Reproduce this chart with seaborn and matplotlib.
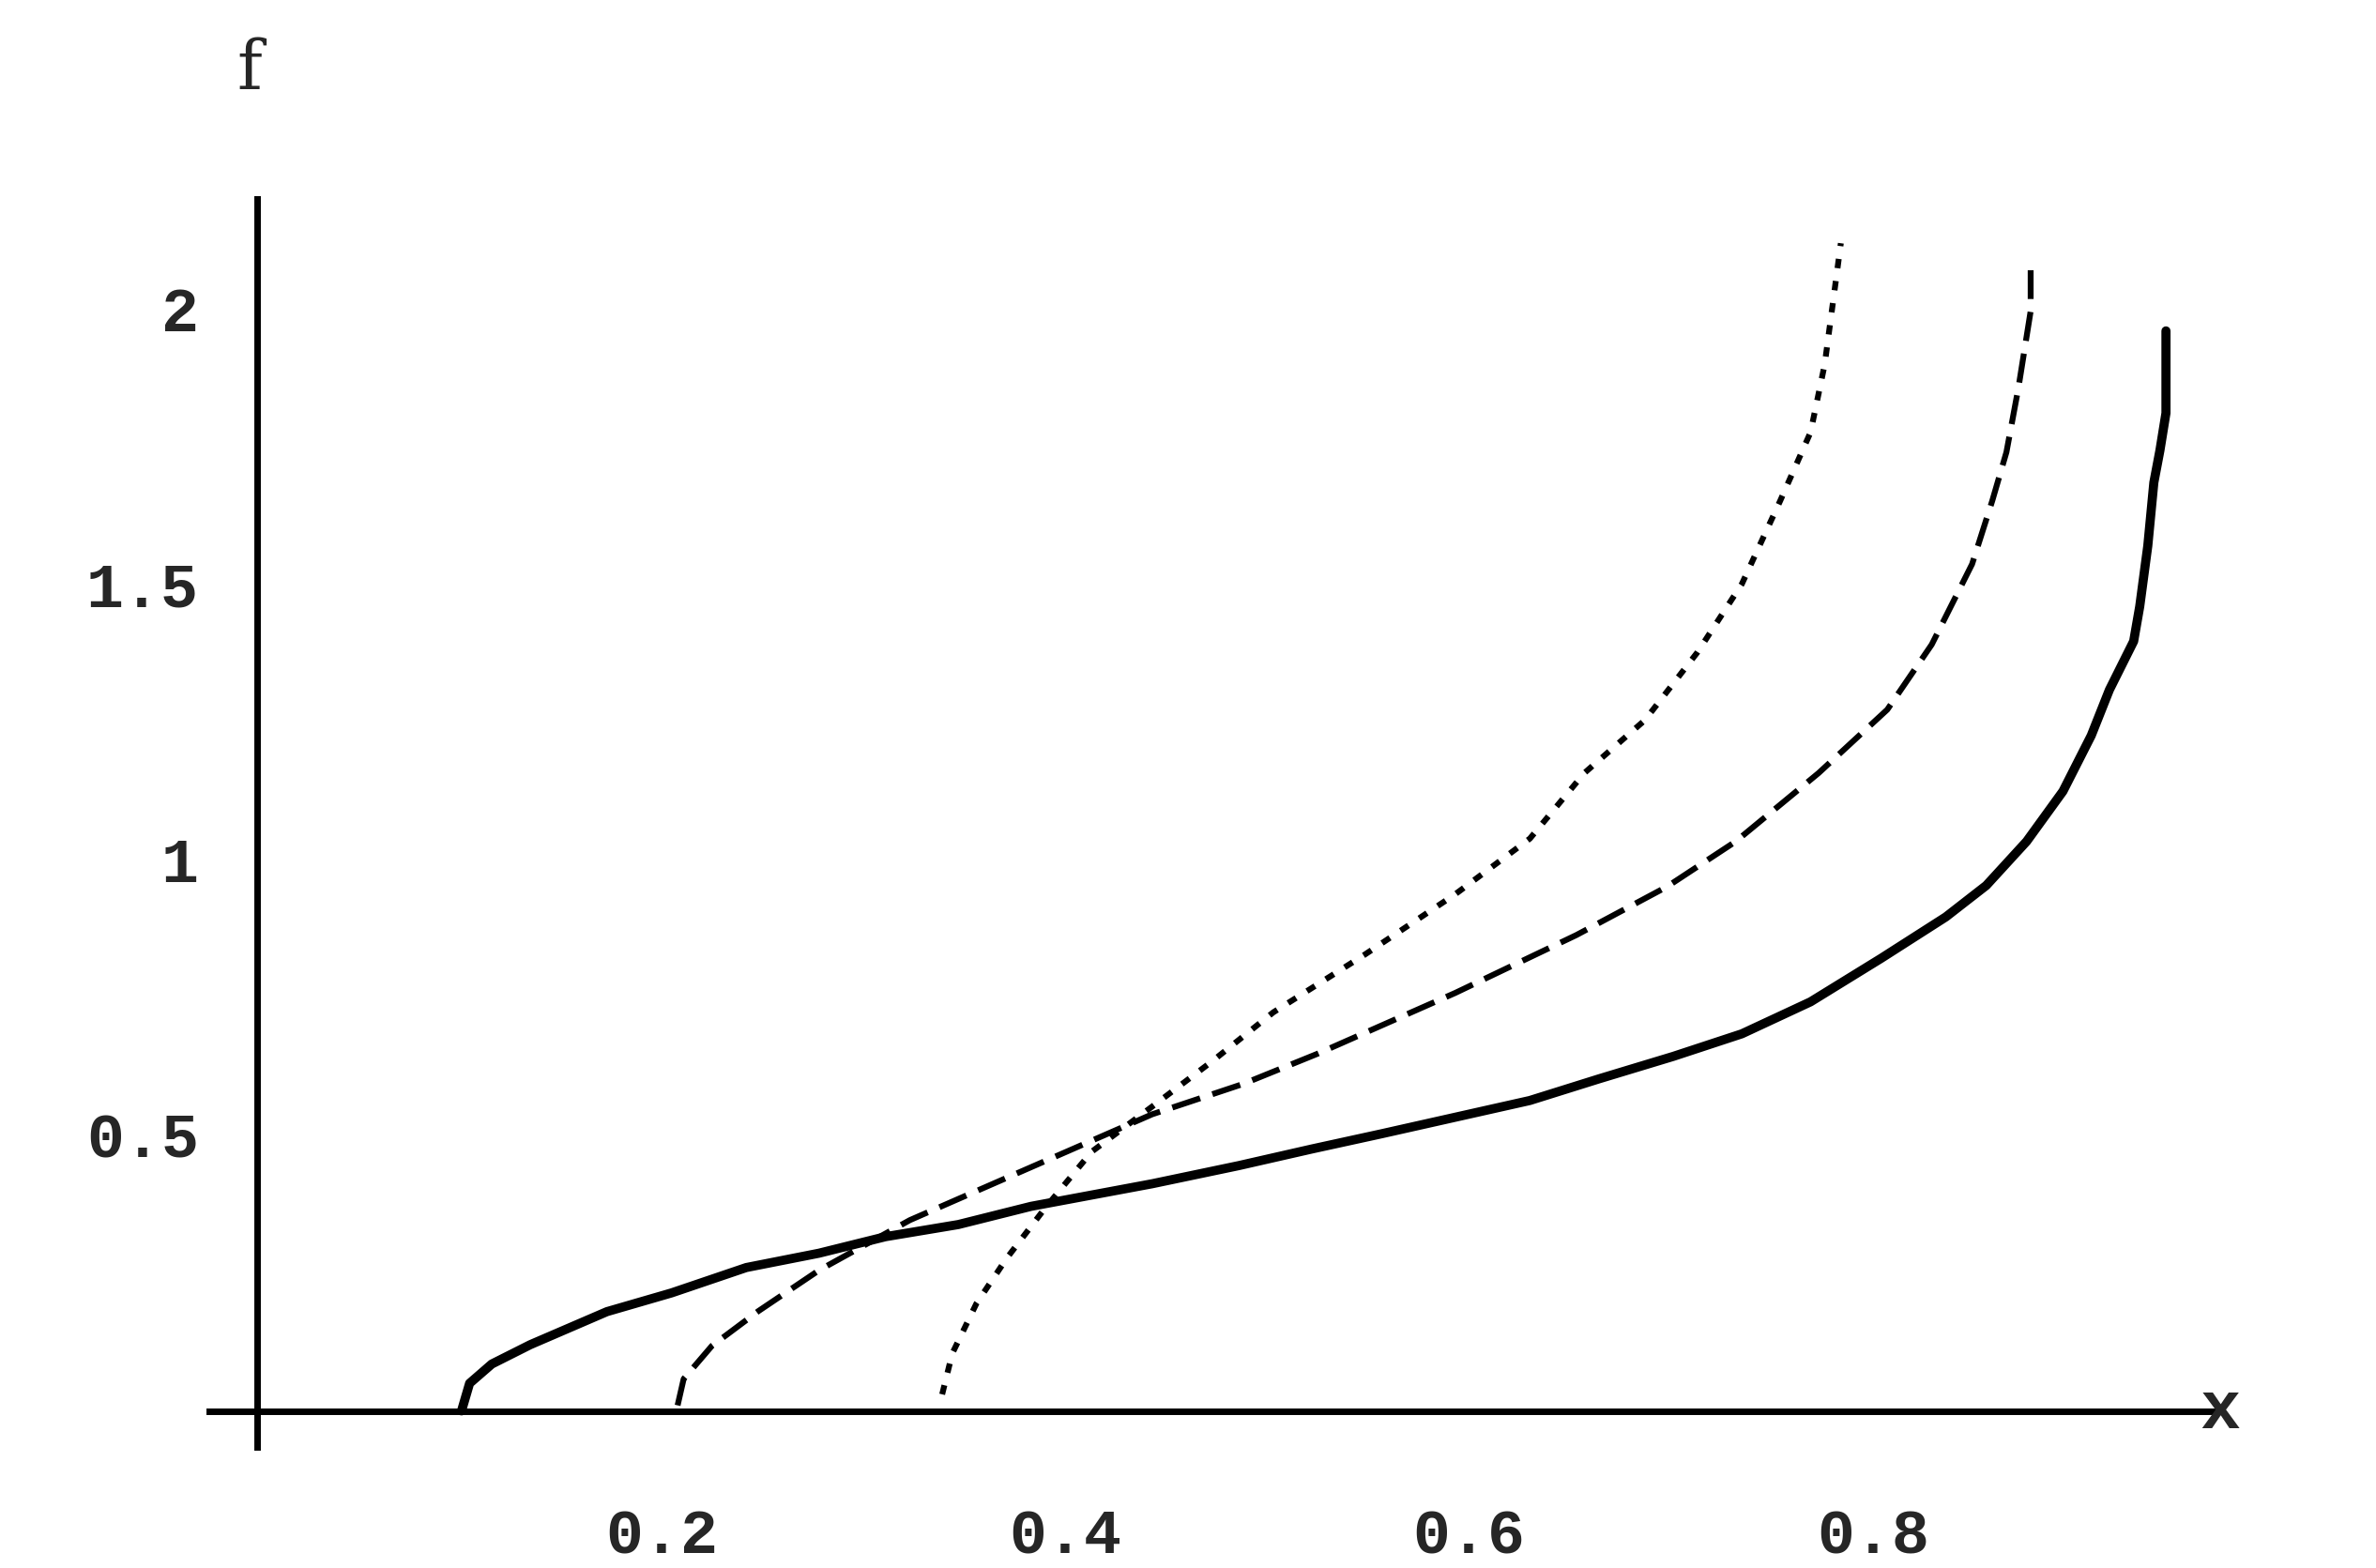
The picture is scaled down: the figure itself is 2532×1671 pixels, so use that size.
import matplotlib
matplotlib.use("Agg")
import matplotlib.pyplot as plt
import seaborn as sns
import numpy as np
import pandas as pd

solid_x = [0.101, 0.105, 0.116, 0.135, 0.173, 0.205, 0.242, 0.278, 0.311, 0.347, 0.383, 0.443, 0.486, 0.522, 0.557,
           0.630, 0.664, 0.701, 0.735, 0.769, 0.804, 0.836, 0.856, 0.876, 0.894, 0.908, 0.917, 0.929, 0.932, 0.936,
           0.939, 0.942, 0.945, 0.945]
solid_y = [0.0, 0.05, 0.085, 0.12, 0.18, 0.214, 0.26, 0.286, 0.316, 0.338, 0.371, 0.412, 0.445, 0.475, 0.503,
           0.563, 0.602, 0.643, 0.684, 0.742, 0.821, 0.896, 0.953, 1.033, 1.124, 1.225, 1.308, 1.396, 1.459, 1.569,
           1.684, 1.742, 1.81, 1.959]
dashed_x = [0.208, 0.211, 0.225, 0.248, 0.278, 0.323, 0.383, 0.443, 0.488, 0.525, 0.593, 0.653, 0.698, 0.732,
            0.773, 0.807, 0.829, 0.849, 0.859, 0.866, 0.872, 0.878, 0.878]
dashed_y = [0.01, 0.058, 0.118, 0.181, 0.255, 0.346, 0.442, 0.538, 0.593, 0.648, 0.758, 0.863, 0.951, 1.033,
            1.157, 1.272, 1.39, 1.536, 1.651, 1.739, 1.857, 1.995, 2.069]
dotted_x = [0.339, 0.344, 0.356, 0.371, 0.39, 0.413, 0.443, 0.473, 0.503, 0.548, 0.593, 0.630, 0.657, 0.687,
            0.713, 0.735, 0.754, 0.769, 0.776, 0.784]
dotted_y = [0.03, 0.104, 0.195, 0.277, 0.368, 0.47, 0.552, 0.635, 0.723, 0.827, 0.937, 1.038, 1.157, 1.253,
            1.376, 1.5, 1.651, 1.775, 1.898, 2.118]

sns.set_style("white")
fig = plt.figure(figsize=(25.32, 16.71), dpi=100)
ax = fig.add_axes([0.088, 0.077, 0.844, 0.796])

for xs, ys, ls, lw in [(solid_x, solid_y, "-", 7),
                       (dashed_x, dashed_y, (0, (5, 2.2)), 4.5),
                       (dotted_x, dotted_y, (0, (1.6, 2.2)), 4.5)]:
    df = pd.DataFrame({"x": xs, "y": ys})
    sns.lineplot(data=df, x="x", y="y", sort=False, estimator=None, ax=ax,
                 color="black", lw=lw, linestyle=ls)

ax.set_xlim(-0.024, 0.969)
ax.set_ylim(-0.066, 2.198)
for s in ["top", "right"]:
    ax.spines[s].set_visible(False)
ax.spines["left"].set_position(("data", 0))
ax.spines["bottom"].set_position(("data", 0))
for s in ["left", "bottom"]:
    ax.spines[s].set_linewidth(5)
    ax.spines[s].set_color("black")

ax.set_xticks([0.2, 0.4, 0.6, 0.8])
ax.set_xticklabels(["0.2", "0.4", "0.6", "0.8"])
ax.set_yticks([0.5, 1, 1.5, 2])
ax.set_yticklabels(["0.5", "1", "1.5", "2"])
ax.set_yticks(np.arange(0.1, 2.15, 0.1), minor=True)
ax.tick_params(axis="x", direction="in", length=12, width=2.5, pad=75)
ax.tick_params(axis="y", which="major", direction="in", length=16, width=2.5, pad=45)
ax.tick_params(axis="y", which="minor", direction="in", length=9, width=2)
for lab in ax.get_xticklabels() + ax.get_yticklabels():
    lab.set_fontfamily("Liberation Mono")
    lab.set_fontweight("bold")
    lab.set_fontsize(48)
ax.set_xlabel("")
ax.set_ylabel("")
ax.text(0.962, 0.0, "x", fontfamily="Liberation Mono", fontweight="bold", fontsize=52,
        ha="left", va="center", transform=ax.transData, clip_on=False)
fig.text(0.105, 0.955, "f", fontfamily="DejaVu Serif", fontsize=52, ha="center", va="center")

fig.savefig("out.png", dpi=100)
